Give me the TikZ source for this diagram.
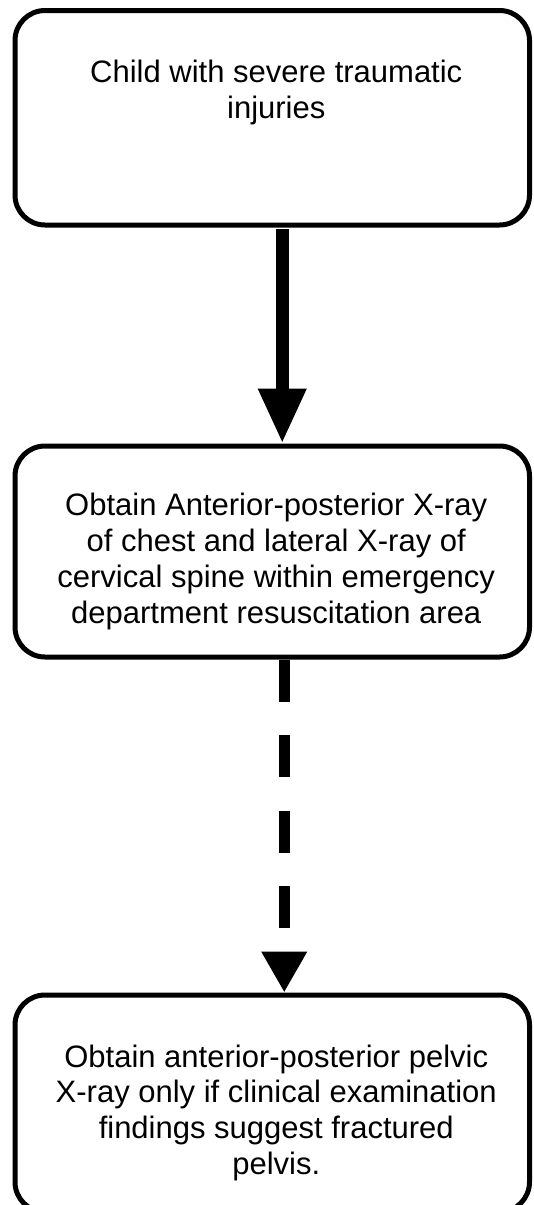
\documentclass[tikz,border=0pt]{standalone}
\usepackage{fontspec}
\setmainfont{Liberation Sans}
\usetikzlibrary{arrows.meta}
\newcommand{\flowtext}[3]{\hspace*{8pt}\parbox[c][#1][t]{500pt}{\centering\fontsize{31pt}{35.7pt}\selectfont\vspace*{#2}\strut #3}}
\tikzset{
  flowbox/.style={draw=black, line width=5pt, rounded corners=30pt, inner sep=0pt, outer sep=2.5pt, minimum width=514.5pt},
  solidarrow/.style={line width=13pt, -{Triangle[length=55pt,width=45pt]}},
  dasharrow/.style={line width=11pt, dash pattern=on 42pt off 33.5pt, -{Triangle[length=41pt,width=43pt]}}
}
\begin{document}
\begin{tikzpicture}[x=1pt,y=1pt]
\useasboundingbox (0,0) rectangle (533,-1205);
\node[flowbox, minimum height=214.5pt] (b1) at (272.25,-117.75) {\flowtext{214.5pt}{47.5pt}{Child with severe traumatic\\injuries}};
\node[flowbox, minimum height=211pt] (b2) at (272.25,-551.5) {\flowtext{211pt}{45pt}{Obtain Anterior-posterior X-ray\\of chest and lateral X-ray of\\cervical spine within emergency\\department resuscitation area}};
\node[flowbox, minimum height=217pt] (b3) at (272.25,-1103.5) {\flowtext{217pt}{47pt}{Obtain anterior-posterior pelvic\\X-ray only if clinical examination\\findings suggest fractured\\pelvis.}};
\draw[solidarrow] ([xshift=10pt,yshift=-1.5pt]b1.south) -- ([xshift=10pt]b2.north);
\draw[dasharrow] ([xshift=12pt]b2.south) -- ([xshift=12pt]b3.north);
\end{tikzpicture}
\end{document}
